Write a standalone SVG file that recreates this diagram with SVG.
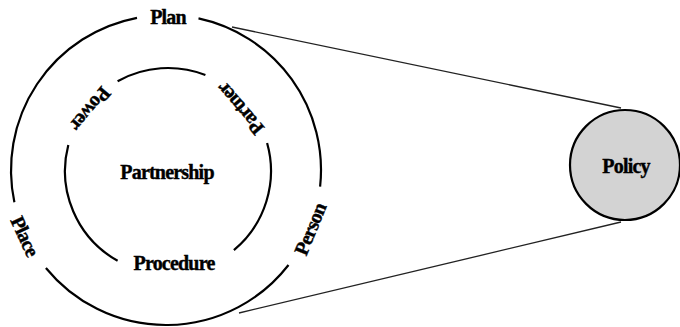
<svg xmlns="http://www.w3.org/2000/svg" width="680" height="327" viewBox="0 0 680 327">
<style>
.ring{fill:none;stroke:#000;stroke-width:2.2}
.lbl{font-family:"Liberation Serif","Times New Roman",serif;font-weight:bold;font-size:20px;fill:#000;stroke:#000;stroke-width:0.4;text-anchor:middle;dominant-baseline:central;letter-spacing:-0.8px}
.conn{fill:none;stroke:#222;stroke-width:1.3}
</style>
<rect width="680" height="327" fill="#fff"/>
<g id="connectors">
<line class="conn" x1="232" y1="27" x2="621" y2="108"/>
<line class="conn" x1="239" y1="313" x2="621" y2="222"/>
</g>
<g id="outer-ring">
<path class="ring" d="M198.5,18.4 A155,155 0 0 1 320.1,186.7"/>
<path class="ring" d="M288.5,265 A155,155 0 0 1 45.9,268"/>
<path class="ring" d="M14.4,202.2 A155,155 0 0 1 137,17.8"/>
</g>
<g id="inner-ring">
<path class="ring" d="M117.6,81.2 A103,103 0 0 1 205.4,75"/>
<path class="ring" d="M267.1,143 A103,103 0 0 1 233.9,250.1"/>
<path class="ring" d="M117.6,260.8 A103,103 0 0 1 68.3,145"/>
</g>
<g id="plan"><text class="lbl" x="168" y="17">Plan</text></g>
<g id="person"><text class="lbl" transform="translate(310,229) rotate(-67.7)">Person</text></g>
<g id="place"><text class="lbl" transform="translate(25,236) rotate(65)">Place</text></g>
<g id="power"><text class="lbl" transform="translate(91,109) rotate(130)">Power</text></g>
<g id="partner"><text class="lbl" transform="translate(240,109) rotate(229.5)">Partner</text></g>
<g id="partnership"><text class="lbl" x="167" y="172">Partnership</text></g>
<g id="procedure"><text class="lbl" x="174" y="263">Procedure</text></g>
<g id="policy">
<circle cx="625" cy="165" r="55" fill="#d3d3d3" stroke="#000" stroke-width="2.2"/>
<text class="lbl" x="626" y="166">Policy</text>
</g>
</svg>
